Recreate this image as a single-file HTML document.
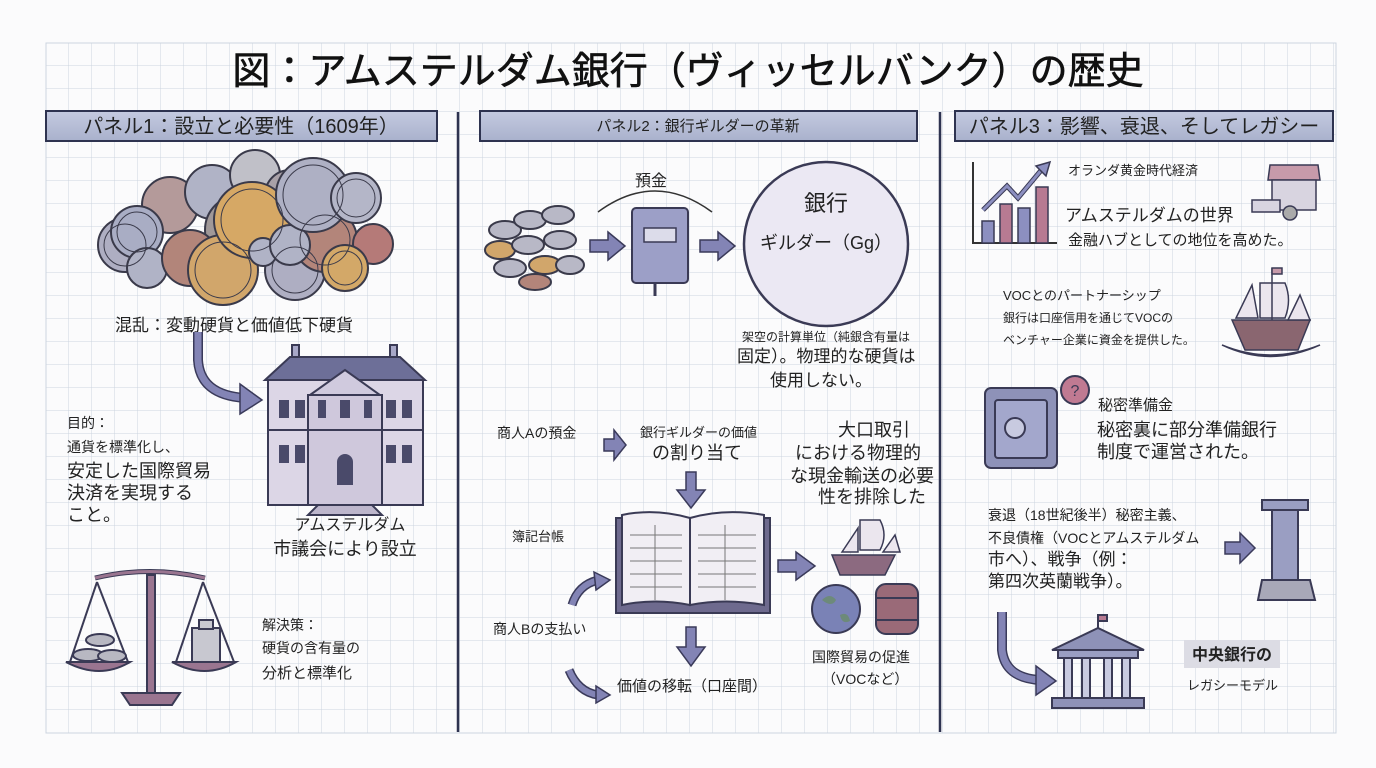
<!DOCTYPE html>
<html><head><meta charset="utf-8">
<style>
html,body{margin:0;padding:0;background:#fff;}
svg{display:block;}
text{font-family:"Liberation Sans","Noto Sans CJK JP",sans-serif;fill:#222;}
</style></head><body>
<svg width="1376" height="768" viewBox="0 0 1376 768" xmlns="http://www.w3.org/2000/svg">
<defs>
<pattern id="g" x="46" y="43" width="23" height="23" patternUnits="userSpaceOnUse">
<path d="M23 0V23M0 23H23" fill="none" stroke="#cdd4df" stroke-width="1"/>
</pattern>
<linearGradient id="hd" x1="0" y1="0" x2="0" y2="1"><stop offset="0" stop-color="#c4cae0"/><stop offset="1" stop-color="#a9b1cc"/></linearGradient>
</defs>
<rect width="1376" height="768" fill="#fbfbfc"/>
<rect x="46" y="43" width="1290" height="690" fill="url(#g)"/>
<rect x="46" y="43" width="1290" height="690" fill="none" stroke="#cdd4df"/>

<text x="688" y="84" text-anchor="middle" font-size="38" style="fill:#111;stroke:#111;stroke-width:0.6">図：アムステルダム銀行（ヴィッセルバンク）の歴史</text>

<line x1="458" y1="112" x2="458" y2="732" stroke="#2e3350" stroke-width="2.5"/>
<line x1="940" y1="112" x2="940" y2="732" stroke="#2e3350" stroke-width="2.5"/>

<rect x="46" y="111" width="391" height="30" fill="url(#hd)" stroke="#2e3350" stroke-width="2"/>
<text x="241" y="133" text-anchor="middle" font-size="20">パネル1：設立と必要性（1609年）</text>
<rect x="480" y="111" width="437" height="30" fill="url(#hd)" stroke="#2e3350" stroke-width="2"/>
<text x="698" y="131" text-anchor="middle" font-size="15">パネル2：銀行ギルダーの革新</text>
<rect x="955" y="111" width="378" height="30" fill="url(#hd)" stroke="#2e3350" stroke-width="2"/>
<text x="1144" y="133" text-anchor="middle" font-size="20">パネル3：影響、衰退、そしてレガシー</text>

<g stroke="#3a3a4a" stroke-width="2">
<circle cx="125" cy="245" r="27" fill="#aeaec2"/>
<circle cx="170" cy="205" r="28" fill="#b49a9a"/>
<circle cx="212" cy="192" r="27" fill="#b0b3c6"/>
<circle cx="255" cy="175" r="25" fill="#c0c0c8"/>
<circle cx="290" cy="195" r="25" fill="#a9a1a8"/>
<circle cx="240" cy="230" r="35" fill="#a09898"/>
<circle cx="137" cy="232" r="26" fill="#a9adc4"/>
<circle cx="147" cy="268" r="20" fill="#b0b3c6"/>
<circle cx="190" cy="258" r="28" fill="#b2857a"/>
<circle cx="223" cy="270" r="35" fill="#d1a66b"/>
<circle cx="252" cy="220" r="38" fill="#d6a865"/>
<circle cx="295" cy="270" r="30" fill="#aeaec2"/>
<circle cx="263" cy="252" r="14" fill="#b0b3c6"/>
<circle cx="325" cy="240" r="32" fill="#b3857a"/>
<circle cx="290" cy="245" r="20" fill="#b0b3c6"/>
<circle cx="313" cy="195" r="37" fill="#aeb0c4"/>
<circle cx="356" cy="198" r="25" fill="#b4b6c8"/>
<circle cx="373" cy="244" r="20" fill="#b57a78"/>
<circle cx="345" cy="268" r="23" fill="#d3a868"/>
</g>
<g fill="none" stroke="#3a3a4a" stroke-width="1">
<circle cx="252" cy="220" r="31"/><circle cx="313" cy="195" r="30"/><circle cx="223" cy="270" r="28"/>
<circle cx="356" cy="198" r="19"/><circle cx="345" cy="268" r="17"/><circle cx="137" cy="232" r="20"/>
<circle cx="325" cy="240" r="25"/><circle cx="295" cy="270" r="23"/><circle cx="125" cy="245" r="21"/>
</g>
<text x="115" y="331" font-size="17">混乱：変動硬貨と価値低下硬貨</text>
<path d="M198 332 V360 Q200 395 245 398" fill="none" stroke="#3a3a5a" stroke-width="10"/>
<path d="M198 332 V360 Q200 395 245 398" fill="none" stroke="#8384b5" stroke-width="7"/>
<polygon points="240,384 262,400 240,414" fill="#8384b5" stroke="#3a3a5a" stroke-width="1.5"/>
<g stroke="#3a3a55" stroke-width="2">
<rect x="292" y="345" width="7" height="12" fill="#a8a8c8"/><rect x="390" y="345" width="7" height="12" fill="#a8a8c8"/>
<polygon points="290,357 400,357 425,380 265,380" fill="#6d6f98"/>
<rect x="268" y="380" width="155" height="125" fill="#dcd6e6"/>
<polygon points="310,395 345,370 380,395" fill="#d0cade"/>
<rect x="308" y="395" width="74" height="110" fill="#cfc8dc"/>
<polygon points="318,505 372,505 382,515 308,515" fill="#bdb6cc"/>
</g>
<g fill="#4a4a6a">
<rect x="279" y="400" width="10" height="18"/><rect x="295" y="400" width="10" height="18"/>
<rect x="386" y="400" width="10" height="18"/><rect x="402" y="400" width="10" height="18"/>
<rect x="279" y="445" width="10" height="18"/><rect x="295" y="445" width="10" height="18"/>
<rect x="386" y="445" width="10" height="18"/><rect x="402" y="445" width="10" height="18"/>
<rect x="318" y="400" width="8" height="18"/><rect x="340" y="400" width="10" height="18"/><rect x="364" y="400" width="8" height="18"/>
<path d="M337 485 V462 a8 8 0 0 1 16 0 V485Z"/>
</g>
<line x1="268" y1="430" x2="423" y2="430" stroke="#3a3a55" stroke-width="2"/>
<text x="67" y="428" font-size="14">目的：</text>
<text x="67" y="452" font-size="14">通貨を標準化し、</text>
<text x="67" y="477" font-size="18">安定した国際貿易</text>
<text x="67" y="499" font-size="18">決済を実現する</text>
<text x="67" y="521" font-size="18">こと。</text>
<text x="350" y="530" text-anchor="middle" font-size="16">アムステルダム</text>
<text x="345" y="555" text-anchor="middle" font-size="18">市議会により設立</text>
<g stroke="#3a3a55" stroke-width="2">
<rect x="147" y="575" width="8" height="120" fill="#9a7590"/>
<path d="M95 578 Q150 565 205 578" fill="none" stroke-width="5"/>
<path d="M95 578 Q150 565 205 578" fill="none" stroke="#9a7590" stroke-width="3"/>
<path d="M122 693 L180 693 L172 705 L130 705Z" fill="#9a7590"/>
<line x1="97" y1="582" x2="70" y2="662"/><line x1="97" y1="582" x2="128" y2="662"/>
<line x1="203" y1="582" x2="176" y2="662"/><line x1="203" y1="582" x2="234" y2="662"/>
<path d="M66 662 H130 Q100 680 66 662Z" fill="#9a7590"/>
<path d="M172 662 H236 Q205 680 172 662Z" fill="#9a7590"/>
<ellipse cx="88" cy="655" rx="15" ry="6" fill="#b8b8c2"/><ellipse cx="112" cy="656" rx="14" ry="6" fill="#b8b8c2"/><ellipse cx="100" cy="640" rx="14" ry="6" fill="#b8b8c2"/>
<rect x="192" y="628" width="28" height="34" fill="#c8c8d0"/><rect x="199" y="620" width="14" height="9" fill="#c8c8d0"/>
</g>
<text x="262" y="630" font-size="14">解決策：</text>
<text x="262" y="653" font-size="14">硬貨の含有量の</text>
<text x="262" y="678" font-size="15">分析と標準化</text>

<g stroke="#3a3a4a" stroke-width="2" fill="#b8b8c6">
<ellipse cx="505" cy="230" rx="16" ry="9"/><ellipse cx="530" cy="220" rx="16" ry="9"/><ellipse cx="558" cy="215" rx="16" ry="9"/>
<ellipse cx="500" cy="250" rx="15" ry="9" fill="#d1a66b"/><ellipse cx="528" cy="245" rx="16" ry="9"/><ellipse cx="560" cy="240" rx="16" ry="9"/>
<ellipse cx="510" cy="268" rx="16" ry="9"/><ellipse cx="545" cy="265" rx="16" ry="9" fill="#d1a66b"/><ellipse cx="570" cy="265" rx="14" ry="9"/>
<ellipse cx="535" cy="282" rx="16" ry="8" fill="#b3857a"/>
</g>
<polygon points="590,240 608,240 608,232 625,246 608,260 608,252 590,252" fill="#8384b5" stroke="#3a3a5a" stroke-width="1.5"/>
<text x="635" y="186" font-size="16">預金</text>
<path d="M598 212 Q655 170 712 212" fill="none" stroke="#333" stroke-width="1.5"/>
<rect x="632" y="208" width="56" height="75" rx="4" fill="#9c9fc7" stroke="#3a3a55" stroke-width="2"/>
<rect x="644" y="228" width="32" height="14" fill="#dcdcea" stroke="#3a3a55" stroke-width="1.5"/>
<line x1="655" y1="283" x2="655" y2="296" stroke="#3a3a55" stroke-width="3"/>
<polygon points="700,240 718,240 718,232 735,246 718,260 718,252 700,252" fill="#8384b5" stroke="#3a3a5a" stroke-width="1.5"/>
<circle cx="826" cy="244" r="82" fill="#ebe8f3" stroke="#3a3a55" stroke-width="2.5"/>
<text x="826" y="211" text-anchor="middle" font-size="22">銀行</text>
<text x="826" y="249" text-anchor="middle" font-size="18">ギルダー（Gg）</text>
<text x="742" y="341" font-size="12">架空の計算単位（純銀含有量は</text>
<text x="737" y="362" font-size="17">固定）。物理的な硬貨は</text>
<text x="770" y="386" font-size="17">使用しない。</text>

<text x="497" y="438" font-size="14">商人Aの預金</text>
<polygon points="604,439 614,439 614,430 626,445 614,460 614,451 604,451" fill="#8384b5" stroke="#3a3a5a" stroke-width="1.5"/>
<text x="640" y="437" font-size="13">銀行ギルダーの価値</text>
<text x="652" y="459" font-size="18">の割り当て</text>
<text x="838" y="436" font-size="18">大口取引</text>
<text x="795" y="459" font-size="18">における物理的</text>
<text x="790" y="482" font-size="18">な現金輸送の必要</text>
<text x="818" y="503" font-size="18">性を排除した</text>
<polygon points="686,472 696,472 696,490 705,490 691,508 677,490 686,490" fill="#8384b5" stroke="#3a3a5a" stroke-width="1.5"/>
<g stroke="#3a3a55" stroke-width="2">
<rect x="616" y="518" width="154" height="95" fill="#6e6a8e"/>
<path d="M622 515 Q655 508 690 518 V605 Q655 598 622 605Z" fill="#f1eef4"/>
<path d="M690 518 Q725 508 764 515 V605 Q725 598 690 605Z" fill="#f1eef4"/>
</g>
<g stroke="#777" stroke-width="1">
<line x1="630" y1="535" x2="682" y2="535"/><line x1="630" y1="548" x2="682" y2="548"/><line x1="630" y1="561" x2="682" y2="561"/><line x1="630" y1="574" x2="682" y2="574"/><line x1="630" y1="587" x2="682" y2="587"/>
<line x1="698" y1="535" x2="756" y2="535"/><line x1="698" y1="548" x2="756" y2="548"/><line x1="698" y1="561" x2="756" y2="561"/><line x1="698" y1="574" x2="756" y2="574"/><line x1="698" y1="587" x2="756" y2="587"/>
<line x1="655" y1="525" x2="655" y2="600"/><line x1="725" y1="525" x2="725" y2="600"/>
</g>
<text x="512" y="541" font-size="13">簿記台帳</text>
<path d="M572 605 Q578 585 598 580" fill="none" stroke="#3a3a5a" stroke-width="9"/>
<path d="M572 605 Q578 585 598 580" fill="none" stroke="#8384b5" stroke-width="6"/>
<polygon points="594,572 610,580 596,590" fill="#8384b5" stroke="#3a3a5a" stroke-width="1.5"/>
<text x="493" y="634" font-size="14">商人Bの支払い</text>
<polygon points="686,627 696,627 696,647 705,647 691,666 677,647 686,647" fill="#8384b5" stroke="#3a3a5a" stroke-width="1.5"/>
<path d="M569 670 Q578 692 598 695" fill="none" stroke="#3a3a5a" stroke-width="9"/>
<path d="M569 670 Q578 692 598 695" fill="none" stroke="#8384b5" stroke-width="6"/>
<polygon points="596,686 610,695 596,703" fill="#8384b5" stroke="#3a3a5a" stroke-width="1.5"/>
<text x="617" y="691" font-size="15">価値の移転（口座間）</text>
<polygon points="778,560 796,560 796,552 815,566 796,580 796,572 778,572" fill="#8384b5" stroke="#3a3a5a" stroke-width="1.5"/>
<g stroke="#3a3a55" stroke-width="1.5">
<path d="M832 555 H895 L885 575 H840Z" fill="#8c6a80"/>
<path d="M842 552 L858 528 V552Z" fill="#ebe6ee"/><path d="M860 550 V520 H880 Q888 535 880 550Z" fill="#ebe6ee"/>
<path d="M883 552 L895 535 L900 552Z" fill="#ebe6ee"/>
</g>
<circle cx="836" cy="609" r="24" fill="#7a82b6" stroke="#3a3a55" stroke-width="2"/>
<path d="M822 600 q8 -8 14 0 q-4 8 -14 0 M840 615 q8 -4 10 6 q-8 4 -10 -6" fill="#6d8a7a"/>
<rect x="876" y="584" width="42" height="50" rx="10" fill="#9a6a78" stroke="#3a3a55" stroke-width="2"/>
<line x1="876" y1="598" x2="918" y2="598" stroke="#3a3a55" stroke-width="2"/><line x1="876" y1="620" x2="918" y2="620" stroke="#3a3a55" stroke-width="2"/>
<text x="812" y="662" font-size="14">国際貿易の促進</text>
<text x="822" y="684" font-size="14">（VOCなど）</text>

<polyline points="973,162 973,243 1057,243" fill="none" stroke="#333" stroke-width="2"/>
<g stroke="#3a3a55" stroke-width="1.5">
<rect x="982" y="221" width="12" height="22" fill="#8c8fc0"/><rect x="1000" y="204" width="12" height="39" fill="#b77a92"/>
<rect x="1018" y="208" width="12" height="35" fill="#8c8fc0"/><rect x="1036" y="187" width="12" height="56" fill="#b77a92"/>
</g>
<polyline points="983,210 1007,186 1018,198 1043,168" fill="none" stroke="#3a3a55" stroke-width="5"/>
<polyline points="983,210 1007,186 1018,198 1043,168" fill="none" stroke="#8c8fc0" stroke-width="3"/>
<polygon points="1036,166 1050,162 1046,176" fill="#8c8fc0" stroke="#3a3a55" stroke-width="1.5"/>
<text x="1068" y="175" font-size="13">オランダ黄金時代経済</text>
<text x="1065" y="221" font-size="17">アムステルダムの世界</text>
<text x="1068" y="245" font-size="15">金融ハブとしての地位を高めた。</text>
<g stroke="#3a3a55" stroke-width="1.5">
<path d="M1270 165 H1318 L1320 180 H1268Z" fill="#c79aaa"/>
<rect x="1272" y="180" width="44" height="30" fill="#d8d4e0"/>
<rect x="1252" y="200" width="28" height="12" fill="#d8d4e0"/>
<circle cx="1290" cy="213" r="7" fill="#aaa"/>
</g>
<text x="1003" y="300" font-size="13">VOCとのパートナーシップ</text>
<text x="1003" y="322" font-size="12">銀行は口座信用を通じてVOCの</text>
<text x="1003" y="344" font-size="12">ベンチャー企業に資金を提供した。</text>
<g stroke="#3a3a55" stroke-width="1.5">
<path d="M1222 345 Q1270 368 1320 345 Q1270 365 1222 345Z" fill="#8c95c4"/>
<path d="M1232 320 H1310 L1298 350 H1245Z" fill="#8a6670"/>
<path d="M1236 318 L1252 285 L1258 318Z" fill="#ebe6ee"/>
<path d="M1260 318 V283 H1285 Q1292 300 1285 318Z" fill="#ebe6ee"/>
<path d="M1288 320 L1300 295 L1310 320Z" fill="#ebe6ee"/>
<line x1="1272" y1="268" x2="1272" y2="320"/>
<rect x="1272" y="268" width="10" height="6" fill="#c79aaa"/>
</g>
<g stroke="#3a3a55" stroke-width="2">
<rect x="985" y="388" width="72" height="80" rx="6" fill="#8e92b8"/>
<rect x="995" y="400" width="52" height="58" rx="3" fill="#a3a7cc"/>
<circle cx="1015" cy="428" r="10" fill="#c8cae0"/>
<circle cx="1075" cy="390" r="14" fill="#c07a92"/>
</g>
<text x="1075" y="396" text-anchor="middle" font-size="16" style="fill:#3a3a55">?</text>
<text x="1098" y="410" font-size="15">秘密準備金</text>
<text x="1097" y="436" font-size="18">秘密裏に部分準備銀行</text>
<text x="1097" y="458" font-size="18">制度で運営された。</text>
<text x="988" y="520" font-size="14">衰退（18世紀後半）秘密主義、</text>
<text x="988" y="543" font-size="14">不良債権（VOCとアムステルダム</text>
<text x="988" y="565" font-size="17">市へ）、戦争（例：</text>
<text x="988" y="587" font-size="17">第四次英蘭戦争）。</text>
<polygon points="1225,542 1240,542 1240,533 1255,548 1240,563 1240,554 1225,554" fill="#8384b5" stroke="#3a3a5a" stroke-width="1.5"/>
<g stroke="#3a3a55" stroke-width="2" fill="#9a9ec2">
<rect x="1262" y="500" width="46" height="10"/>
<rect x="1272" y="510" width="26" height="70"/>
<path d="M1262 580 H1310 L1315 600 H1258Z" fill="#a8a8b8"/>
</g>
<path d="M1002 612 V650 Q1005 678 1040 680" fill="none" stroke="#3a3a5a" stroke-width="10"/>
<path d="M1002 612 V650 Q1005 678 1040 680" fill="none" stroke="#8384b5" stroke-width="7"/>
<polygon points="1036,666 1056,681 1036,695" fill="#8384b5" stroke="#3a3a5a" stroke-width="1.5"/>
<g stroke="#3a3a55" stroke-width="2">
<polygon points="1052,650 1098,628 1144,650" fill="#8e92b8"/>
<rect x="1058" y="650" width="80" height="8" fill="#9a9ec2"/>
<rect x="1064" y="658" width="8" height="40" fill="#c8cae0"/><rect x="1082" y="658" width="8" height="40" fill="#c8cae0"/>
<rect x="1104" y="658" width="8" height="40" fill="#c8cae0"/><rect x="1122" y="658" width="8" height="40" fill="#c8cae0"/>
<rect x="1052" y="698" width="92" height="10" fill="#8e92b8"/>
<line x1="1098" y1="628" x2="1098" y2="615"/><rect x="1098" y="615" width="9" height="6" fill="#b77a92"/>
</g>
<rect x="1184" y="640" width="96" height="28" fill="#dcdce4"/>
<text x="1232" y="660" text-anchor="middle" font-size="16" font-weight="bold">中央銀行の</text>
<text x="1187" y="690" font-size="13">レガシーモデル</text>
</svg>
</body></html>
